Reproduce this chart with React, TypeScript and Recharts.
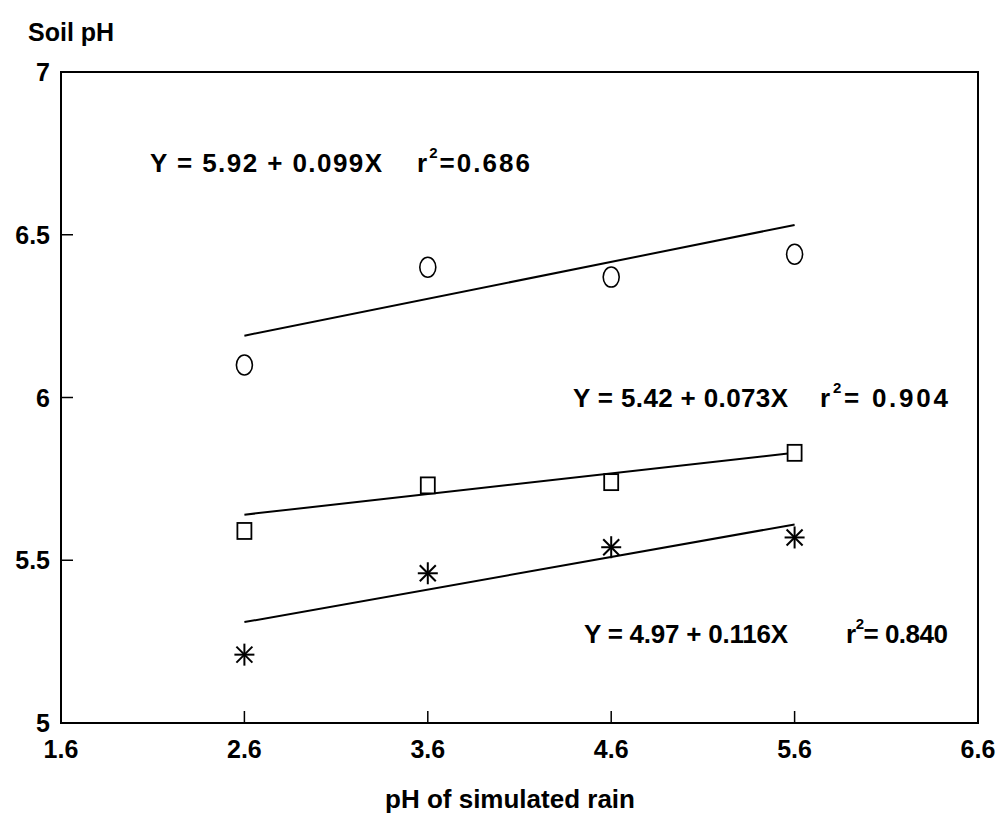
import {
  ComposedChart,
  Line,
  Scatter,
  XAxis,
  YAxis,
  ReferenceArea,
} from "recharts";

// pH of simulated rain (treatments)
const rainPh = [2.6, 3.6, 4.6, 5.6];
// soil pH, one list per marker group
const soilCircle = [6.1, 6.4, 6.37, 6.44];
const soilSquare = [5.59, 5.73, 5.74, 5.83];
const soilStar = [5.21, 5.46, 5.54, 5.57];
// fitted lines as drawn (ends at 2.6 and 5.6)
const fitX = [2.6, 5.6];
const fitCircle = [6.19, 6.53];
const fitSquare = [5.64, 5.83];
const fitStar = [5.31, 5.61];

const xTicks = [1.6, 2.6, 3.6, 4.6, 5.6, 6.6];
const yTicks = [5, 5.5, 6, 6.5, 7];

const FONT = '"Liberation Sans", Arial, sans-serif';

const toPoints = (xs: number[], ys: number[]) =>
  xs.map((x, i) => ({ x, y: ys[i] }));

const circleData = toPoints(rainPh, soilCircle);
const squareData = toPoints(rainPh, soilSquare);
const starData = toPoints(rainPh, soilStar);

function XTick(props: any) {
  const { x, y, payload } = props;
  return (
    <g>
      <line x1={x} x2={x} y1={y} y2={y - 12} stroke="#000" strokeWidth={1.5} />
      <text
        x={x}
        y={y + 35}
        textAnchor="middle"
        fontSize={25}
        fontWeight="bold"
        fontFamily={FONT}
        fill="#000"
      >
        {String(payload.value)}
      </text>
    </g>
  );
}

function YTick(props: any) {
  const { x, y, payload } = props;
  return (
    <g>
      <line x1={x} x2={x + 12} y1={y} y2={y} stroke="#000" strokeWidth={1.5} />
      <text
        x={x - 11}
        y={y + 9}
        textAnchor="end"
        fontSize={25}
        fontWeight="bold"
        fontFamily={FONT}
        fill="#000"
      >
        {String(payload.value)}
      </text>
    </g>
  );
}

const CircleMark = (p: any) => (
  <ellipse cx={p.cx} cy={p.cy} rx={8} ry={10} fill="#fff" stroke="#000" strokeWidth={1.6} />
);
const SquareMark = (p: any) => (
  <rect x={p.cx - 7} y={p.cy - 8} width={14} height={16} fill="#fff" stroke="#000" strokeWidth={1.8} />
);
const StarMark = (p: any) => (
  <g stroke="#000" strokeWidth={2}>
    <line x1={p.cx} x2={p.cx} y1={p.cy - 11} y2={p.cy + 11} />
    <line x1={p.cx - 10} x2={p.cx + 10} y1={p.cy} y2={p.cy} />
    <line x1={p.cx - 8} x2={p.cx + 8} y1={p.cy - 8} y2={p.cy + 8} />
    <line x1={p.cx - 8} x2={p.cx + 8} y1={p.cy + 8} y2={p.cy - 8} />
  </g>
);

// equation annotation: equation on the left, r² and value from rx to end
function Equation(props: {
  x: number;
  y: number;
  width: number;
  eq: string;
  rx: number;
  value: string;
  end: number;
}) {
  const { x, y, width, eq, rx, value, end } = props;
  return (
    <g fontFamily={FONT} fontWeight="bold" fill="#000">
      <text x={x} y={y} fontSize={26} textLength={width} lengthAdjust="spacing">
        {eq}
      </text>
      <text x={rx} y={y} fontSize={26} textLength={end - rx} lengthAdjust="spacing">
        r
        <tspan dy={-14} fontSize={15}>
          2
        </tspan>
        <tspan dy={14}>{value}</tspan>
      </text>
    </g>
  );
}

export default function App() {
  return (
    <div
      style={{
        position: "absolute",
        left: 0,
        top: 0,
        width: 999,
        height: 832,
        background: "#fff",
      }}
    >
      <ComposedChart
        width={999}
        height={832}
        margin={{ top: 72, right: 21, bottom: 0, left: 0 }}
      >
        <XAxis
          type="number"
          dataKey="x"
          domain={[1.6, 6.6]}
          ticks={xTicks}
          height={109}
          tickSize={0}
          tickMargin={0}
          tickLine={false}
          axisLine={{ stroke: "#000", strokeWidth: 2 }}
          tick={<XTick />}
          allowDataOverflow
        />
        <YAxis
          type="number"
          dataKey="y"
          domain={[5, 7]}
          ticks={yTicks}
          width={61}
          tickSize={0}
          tickMargin={0}
          tickLine={false}
          axisLine={{ stroke: "#000", strokeWidth: 2 }}
          tick={<YTick />}
          allowDataOverflow
        />
        <ReferenceArea
          x1={1.6}
          x2={6.6}
          y1={5}
          y2={7}
          fill="none"
          fillOpacity={0}
          stroke="#000"
          strokeWidth={2}
        />
        <Line
          data={toPoints(fitX, fitCircle)}
          dataKey="y"
          stroke="#000"
          strokeWidth={2}
          dot={false}
          activeDot={false}
          isAnimationActive={false}
        />
        <Line
          data={toPoints(fitX, fitSquare)}
          dataKey="y"
          stroke="#000"
          strokeWidth={2}
          dot={false}
          activeDot={false}
          isAnimationActive={false}
        />
        <Line
          data={toPoints(fitX, fitStar)}
          dataKey="y"
          stroke="#000"
          strokeWidth={2}
          dot={false}
          activeDot={false}
          isAnimationActive={false}
        />
        <Scatter data={circleData} dataKey="y" shape={CircleMark} isAnimationActive={false} />
        <Scatter data={squareData} dataKey="y" shape={SquareMark} isAnimationActive={false} />
        <Scatter data={starData} dataKey="y" shape={StarMark} isAnimationActive={false} />
      </ComposedChart>

      <svg
        width={999}
        height={832}
        style={{ position: "absolute", left: 0, top: 0, pointerEvents: "none" }}
      >
        <text x={28} y={41} fontSize={25} fontWeight="bold" fontFamily={FONT} fill="#000">
          Soil pH
        </text>
        <text
          x={510}
          y={808}
          fontSize={26}
          fontWeight="bold"
          fontFamily={FONT}
          textAnchor="middle"
          fill="#000"
        >
          pH of simulated rain
        </text>
        <Equation x={150} y={172} width={232} eq="Y = 5.92 + 0.099X" rx={417} value="=0.686" end={530} />
        <Equation x={573} y={407} width={215} eq="Y = 5.42 + 0.073X" rx={820} value="= 0.904" end={948} />
        <Equation x={584} y={643} width={204} eq="Y = 4.97 + 0.116X" rx={846} value="= 0.840" end={948} />
      </svg>
    </div>
  );
}
